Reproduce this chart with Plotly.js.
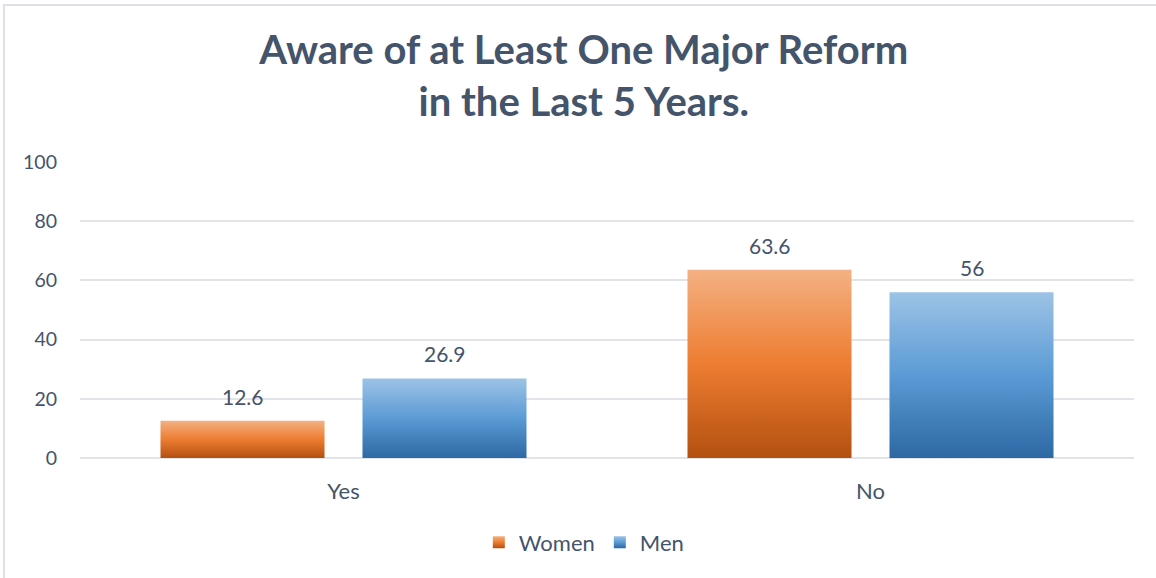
<!DOCTYPE html>
<html><head><meta charset="utf-8">
<script src="https://cdn.plot.ly/plotly-3.0.1.min.js"></script>
<style>
html,body{margin:0;padding:0;background:#fff;}
#frame{position:absolute;left:3px;top:4px;width:1153px;height:574px;border-left:2px solid #dde1e7;border-top:2px solid #dde1e7;box-sizing:border-box;}
#chart{position:absolute;left:0;top:0;width:1156px;height:578px;}
</style></head>
<body>
<div id="frame"></div>
<div id="chart"></div>
<script>
const categories = ["Yes", "No"];
const women = [12.6, 63.6];
const men = [26.9, 56];
const seriesNames = ["Women", "Men"];
const tickVals = [0, 20, 40, 60, 80, 100];

const txt = '#44546A';
const fontFam = 'Lato, "Open Sans", sans-serif';

const traces = [
  {type:'bar', name:seriesNames[0], x:categories, y:women,
   marker:{color:'#ED7D31'}, hoverinfo:'none'},
  {type:'bar', name:seriesNames[1], x:categories, y:men,
   marker:{color:'#5B9BD5'}, hoverinfo:'none'}
];

// data labels placed above each bar (offset to the grouped bar's slot)
const annotations = [];
[women, men].forEach(function(vals, si){
  vals.forEach(function(v, ci){
    annotations.push({x:categories[ci], y:v, xref:'x', yref:'y', text:String(v),
      showarrow:false, yanchor:'bottom', xanchor:'center',
      xshift:(si === 0 ? -101 : 101), yshift:10,
      font:{size:21, color:txt, family:fontFam}});
  });
});

const layout = {
  width:1156, height:578,
  paper_bgcolor:'rgba(0,0,0,0)', plot_bgcolor:'rgba(0,0,0,0)',
  margin:{l:80, r:22, t:162, b:120},
  title:{text:'Aware of at Least One Major Reform<br>in the Last 5 Years.',
    font:{family:fontFam, size:40, color:txt, weight:'bold'},
    x:0.505, xanchor:'center', y:0.89, yanchor:'top'},
  barmode:'group', bargap:0.2334, bargroupgap:0.188,
  xaxis:{tickfont:{size:22, color:txt, family:fontFam}, showline:false, ticks:'', ticklen:0,
    ticklabelstandoff:18},
  yaxis:{range:[0,100], tickvals:tickVals, ticktext:tickVals.map(String),
    tickfont:{size:19.5, color:txt, family:fontFam},
    gridcolor:'#e1e5ea', gridwidth:2, zeroline:true, zerolinecolor:'#e1e5ea', zerolinewidth:2,
    ticks:'', ticklabelstandoff:22, showline:false},
  legend:{orientation:'h', x:0.478, xanchor:'center', y:-0.285, yanchor:'middle',
    font:{size:22, color:txt, family:fontFam}, itemwidth:20, traceorder:'normal'},
  annotations:annotations,
  showlegend:true
};

Plotly.newPlot('chart', traces, layout, {displayModeBar:false, staticPlot:true}).then(function(gd){
  const svg = gd.querySelector('svg.main-svg');
  const ns = 'http://www.w3.org/2000/svg';
  let defs = svg.querySelector('defs');
  if(!defs){ defs = document.createElementNS(ns,'defs'); svg.insertBefore(defs, svg.firstChild); }
  function grad(id, stops){
    const g = document.createElementNS(ns,'linearGradient');
    g.setAttribute('id', id); g.setAttribute('x1','0'); g.setAttribute('y1','0');
    g.setAttribute('x2','0'); g.setAttribute('y2','1');
    stops.forEach(function(s){
      const st = document.createElementNS(ns,'stop');
      st.setAttribute('offset', s[0]); st.setAttribute('stop-color', s[1]);
      g.appendChild(st);
    });
    defs.appendChild(g);
  }
  grad('gradW', [['0','#F4B183'],['0.5','#ED7D31'],['1','#B35010']]);
  grad('gradM', [['0','#9DC3E6'],['0.5','#5B9BD5'],['1','#2D68A3']]);
  const ids = ['gradW','gradM'];
  gd.querySelectorAll('.barlayer .trace.bars').forEach(function(t, i){
    t.querySelectorAll('path').forEach(function(p){ p.style.fill = 'url(#'+ids[i]+')'; });
  });
  gd.querySelectorAll('.legend .traces').forEach(function(t, i){
    t.querySelectorAll('.legendpoints path').forEach(function(p){ p.style.fill = 'url(#'+ids[i]+')'; p.style.stroke='none'; });
  });
});
</script>
</body></html>
